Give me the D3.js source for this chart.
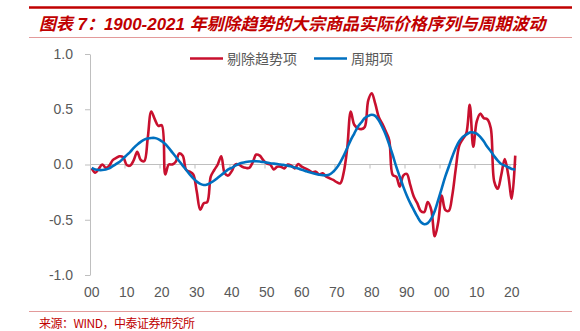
<!DOCTYPE html>
<html><head><meta charset="utf-8">
<script src="https://cdn.jsdelivr.net/npm/d3@7"></script>
<style>body{margin:0;background:#fff}svg{display:block}</style>
</head><body><svg id="c" width="580" height="331"></svg>
<script>
const titleText = "图表 7：1900-2021 年剔除趋势的大宗商品实际价格序列与周期波动";
const sourceText = "来源：WIND，中泰证券研究所";
const seriesNames = ["剔除趋势项", "周期项"];
const seriesColors = ["#C8102E", "#0070C0"];
const years = d3.range(1900, 2022);
const tickYears = [1900,1910,1920,1930,1940,1950,1960,1970,1980,1990,2000,2010,2020];
const tickLabels = ["00","10","20","30","40","50","60","70","80","90","00","10","20"];
const yTicks = [-1, -0.5, 0, 0.5, 1];

// 剔除趋势项 (detrended)
const detrended = [
 -0.035,-0.075,-0.04,0.0,-0.03,-0.01,0.04,0.06,0.075,0.065,
 -0.005,-0.01,0.04,0.115,0.04,0.03,0.24,0.48,0.41,0.35,
 0.355,-0.09,0.0,0.0,0.025,0.1,0.08,-0.05,-0.065,-0.09,
 -0.245,-0.41,-0.35,-0.34,-0.11,-0.05,0.0,0.075,-0.08,-0.1,
 -0.06,0.0,0.0,-0.02,-0.03,-0.03,0.02,0.09,0.08,0.04,
 0.01,0.0,-0.045,-0.02,-0.02,-0.035,0.0,-0.01,-0.035,0.005,
 -0.02,-0.035,-0.05,-0.07,-0.065,-0.09,-0.08,-0.11,-0.125,-0.14,
 -0.16,-0.17,-0.07,0.15,0.48,0.36,0.33,0.32,0.34,0.58,
 0.645,0.55,0.43,0.37,0.3,0.22,-0.095,-0.11,-0.2,-0.1,
 -0.085,-0.185,-0.29,-0.35,-0.42,-0.43,-0.34,-0.41,-0.65,-0.52,
 -0.28,-0.41,-0.42,-0.28,-0.04,0.17,0.23,0.28,0.54,0.16,
 0.39,0.46,0.42,0.41,0.33,-0.155,-0.22,-0.095,0.05,-0.095,
 -0.31,0.08
];
// 周期项 (cycle)
const cycle = [
 -0.03,-0.045,-0.05,-0.05,-0.045,-0.035,-0.015,0.005,0.025,0.055,
 0.085,0.115,0.15,0.18,0.205,0.225,0.235,0.24,0.24,0.23,
 0.21,0.185,0.15,0.11,0.07,0.03,-0.01,-0.05,-0.09,-0.125,
 -0.155,-0.175,-0.185,-0.18,-0.165,-0.145,-0.12,-0.095,-0.07,-0.045,
 -0.03,-0.01,0.005,0.015,0.022,0.027,0.03,0.03,0.027,0.022,
 0.017,0.012,0.008,0.004,0.0,-0.005,-0.01,-0.018,-0.027,-0.037,
 -0.048,-0.058,-0.068,-0.077,-0.085,-0.092,-0.097,-0.098,-0.09,-0.065,
 -0.03,0.02,0.08,0.15,0.22,0.28,0.34,0.38,0.42,0.44,
 0.45,0.44,0.40,0.34,0.27,0.18,0.085,-0.02,-0.11,-0.2,
 -0.28,-0.35,-0.41,-0.47,-0.52,-0.54,-0.53,-0.49,-0.42,-0.32,
 -0.215,-0.11,-0.02,0.07,0.15,0.21,0.25,0.27,0.29,0.29,
 0.28,0.25,0.21,0.16,0.12,0.075,0.035,0.005,-0.01,-0.025,
 -0.04,-0.045
];

const svg = d3.select("#c");
const cjk = "'Noto Sans CJK SC', 'Liberation Sans', sans-serif";
const latin = "'Liberation Sans', Arial, sans-serif";
const grey = "#BFBFBF";
const labelColor = "#595959";

// header
svg.append("line").attr("x1",29).attr("x2",572).attr("y1",7.5).attr("y2",7.5)
  .attr("stroke","#C00000").attr("stroke-width",2.5);
svg.append("line").attr("x1",29).attr("x2",572).attr("y1",37.5).attr("y2",37.5)
  .attr("stroke","#E39A9A").attr("stroke-width",1);
const title = svg.append("text").attr("x",39).attr("y",29.5)
  .attr("fill","#C00000").attr("font-weight","bold").attr("font-style","italic")
  .attr("font-family", "'Liberation Sans', 'Noto Sans CJK SC', sans-serif")
  .attr("font-size",15).text(titleText);
const tw = title.node().getComputedTextLength();
title.attr("font-size", 15 * 507 / tw);

// footer
svg.append("line").attr("x1",29).attr("x2",572).attr("y1",311.5).attr("y2",311.5)
  .attr("stroke","#E39A9A").attr("stroke-width",1);
const src = svg.append("text").attr("x",39).attr("y",328).attr("fill","#C00000")
  .attr("font-family",cjk).attr("font-size",12).text(sourceText);
const sw = src.node().getComputedTextLength();
src.attr("textLength",156).attr("lengthAdjust","spacing");

// scales
const x = d3.scaleBand().domain(years).range([90,517]).padding(0);
const y = d3.scaleLinear().domain([-1,1]).range([275,54]);
const cx = d => x(d) + x.bandwidth()/2;

// y axis
const yAxis = svg.append("g").attr("transform","translate(90,0)")
  .call(d3.axisLeft(y).tickValues(yTicks).tickFormat(d => d.toFixed(1)).tickSize(5).tickSizeOuter(0).tickPadding(12));
yAxis.selectAll("path,line").attr("stroke",grey);
yAxis.selectAll("text").attr("fill",labelColor).attr("font-family",latin).attr("font-size",14);

// x axis at zero
const xg = svg.append("g");
xg.append("line").attr("x1",90).attr("x2",517).attr("y1",y(0)).attr("y2",y(0)).attr("stroke",grey).attr("stroke-width",1.2);
xg.selectAll("line.tk").data(tickYears.slice(1)).join("line").attr("class","tk")
  .attr("x1",d=>x(d)).attr("x2",d=>x(d)).attr("y1",y(0)).attr("y2",y(0)+4).attr("stroke",grey);
svg.append("g").selectAll("text").data(tickYears).join("text")
  .attr("x",d=>cx(d)).attr("y",297).attr("text-anchor","middle")
  .attr("fill",labelColor).attr("font-family",latin).attr("font-size",14)
  .text((d,i)=>tickLabels[i]);

// lines
const line = d3.line().x((d,i)=>cx(years[i])).y(d=>y(d)).curve(d3.curveCatmullRom.alpha(0.5));
[detrended, cycle].forEach((s,k) => {
  svg.append("path").attr("d", line(s)).attr("fill","none")
    .attr("stroke", seriesColors[k]).attr("stroke-width",2.6).attr("stroke-linejoin","round");
});

// legend
const legX = [190, 314];
seriesNames.forEach((n,k) => {
  svg.append("line").attr("x1",legX[k]).attr("x2",legX[k]+33).attr("y1",58.5).attr("y2",58.5)
    .attr("stroke",seriesColors[k]).attr("stroke-width",2.6);
  svg.append("text").attr("x",legX[k]+37).attr("y",63.5).attr("fill",labelColor)
    .attr("font-family",cjk).attr("font-size",14).text(n);
});
</script></body></html>
